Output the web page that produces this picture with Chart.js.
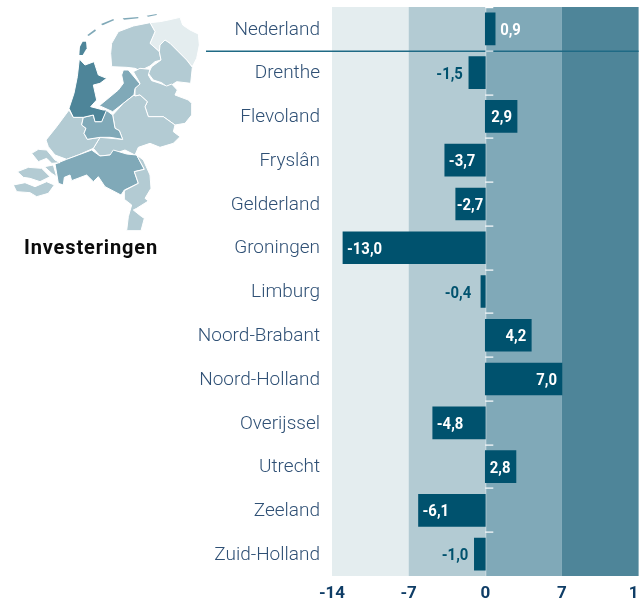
<!DOCTYPE html>
<html><head><meta charset="utf-8">
<style>
html,body{margin:0;padding:0;background:#fff;width:639px;height:601px;overflow:hidden}
#wrap{position:relative;width:639px;height:601px}
canvas{position:absolute;left:0;top:0}
svg{position:absolute;left:0;top:0}
#title{position:absolute;left:24px;top:235px;font:700 20px Roboto,sans-serif;letter-spacing:.85px;color:#0b0b0b;white-space:nowrap}
</style>
<script src="https://cdn.jsdelivr.net/npm/chart.js@4"></script>
</head><body>
<div id="wrap">
<canvas id="c" width="639" height="601"></canvas>
<svg id="map" width="213" height="270" viewBox="0 0 639 810"></svg>
<div id="title">Investeringen</div>
</div>
<script>
const categories = ["Nederland","Drenthe","Flevoland","Fryslân","Gelderland","Groningen","Limburg","Noord-Brabant","Noord-Holland","Overijssel","Utrecht","Zeeland","Zuid-Holland"];
const values = [0.9,-1.5,2.9,-3.7,-2.7,-13.0,-0.4,4.2,7.0,-4.8,2.8,-6.1,-1.0];
const bandEdges = [-14,-7,0,7,14];
const bandColors = ["#e4edef","#b3cbd3","#80a9b8","#4e8599"];
const barColor = "#00526e";
const axisMin = -14, axisMax = 14, axisStep = 7;

/* decorative province map */
const C1="#e4edef",C2="#b3cbd3",C3="#80a9b8",C4="#4e8599";
const provinces = [
 [C1,"450,68 480,65 505,60 540,52 548,75 570,90 595,102 598,135 590,175 577,200 560,180 535,155 510,130 495,120 480,135 478,155 450,130 465,95"],
 [C2,"450,68 465,95 450,130 478,155 483,180 465,185 450,198 420,212 405,205 380,202 335,200 332,160 335,130 355,95 400,78"],
 [C2,"495,120 510,130 535,155 560,180 577,202 572,250 530,245 515,255 500,260 485,248 460,240 445,220 455,200 483,180 478,155 480,135"],
 [C2,"400,215 420,205 450,208 445,225 455,242 480,250 500,258 515,252 532,270 525,285 565,300 575,310 575,345 555,370 525,375 490,350 445,350 435,320 442,305 420,285 405,288 405,265 420,250"],
 [C3,"370,210 385,210 420,252 405,265 402,285 370,310 338,335 298,317 355,270 370,250 365,225"],
 [C2,"405,288 420,285 442,305 435,320 445,350 490,350 525,375 520,395 540,410 520,430 480,442 450,430 415,442 405,465 375,450 330,465 300,468 280,445 300,412 368,418 358,392 345,385 338,345 370,310 402,285"],
 [C2,"207,330 220,352 250,352 245,375 258,385 252,400 262,418 300,412 280,445 235,465 200,478 165,465 145,440 138,420 170,380"],
 [C3,"165,492 200,478 235,465 275,450 300,468 330,465 340,450 380,462 410,465 433,508 403,515 415,550 373,570 363,585 315,560 295,530 280,545 260,525 215,542 210,525 193,532 190,555 175,550 170,520"],
 [C2,"410,465 430,480 450,525 453,565 435,595 445,603 410,625 400,630 425,650 433,655 423,692 380,692 385,650 395,615 373,598 373,572 415,550 403,515 433,508"],
 [C3,"250,352 280,345 285,365 305,365 318,330 338,345 345,385 358,392 368,418 330,412 300,412 262,418 252,400 258,385 245,375"],
 [C4,"238,177 255,195 282,185 295,225 320,235 300,250 280,255 290,300 272,320 310,330 320,330 305,365 285,365 280,345 250,352 220,352 207,325 222,280 232,230"],
 [C2,"95,460 115,448 140,450 165,480 180,488 155,490 140,475 115,485"],
 [C2,"52,515 85,502 125,505 150,530 120,545 90,535 70,532"],
 [C2,"133,500 160,495 170,530 155,520"],
 [C2,"40,555 75,548 105,560 140,545 163,555 145,580 110,590 90,578 50,575"]
];
const islands = ["248,125 258,125 260,145 248,165 238,165 240,140","262,105 285,88 288,92 266,108","303,72 340,57 342,61 308,76","368,55 415,51 415,55 372,59","440,47 470,42 470,45 444,50"];
let svg = "";
for (const [f,p] of provinces) svg += `<polygon points="${p}" fill="${f}" stroke="#fff" stroke-width="3" stroke-linejoin="round"/>`;
islands.forEach((p,i)=>{ svg += `<polygon points="${p}" fill="${i===0?C4:C3}"/>`; });
document.getElementById("map").innerHTML = svg;

const decor = {
  id:"decor",
  beforeDatasetsDraw(chart){
    const {ctx,chartArea:a,scales:{x}} = chart;
    bandColors.forEach((col,i)=>{
      const l=x.getPixelForValue(bandEdges[i]), r=x.getPixelForValue(bandEdges[i+1]);
      ctx.fillStyle=col; ctx.fillRect(l,a.top,r-l,a.bottom-a.top);
    });
    const x0=x.getPixelForValue(0);
    ctx.fillStyle="rgba(255,255,255,.55)"; ctx.fillRect(x0,a.top,1,a.bottom-a.top);
  },
  afterDatasetsDraw(chart){
    const {ctx,chartArea:a,scales:{x,y}} = chart;
    const x0=x.getPixelForValue(0);
    const sep=Math.round((y.getPixelForValue(0)+y.getPixelForValue(1))/2);
    ctx.fillStyle="#1f6a85"; ctx.fillRect(206,sep-0.5,a.right-206,1.5);
    ctx.fillStyle="#fff";
    for(let i=0;i<categories.length-1;i++){
      const p=Math.round((y.getPixelForValue(i)+y.getPixelForValue(i+1))/2);
      ctx.fillRect(x0,p-0.5,8,1.2);
    }
    ctx.fillRect(x0,a.top,8,1.2);
    const meta=chart.getDatasetMeta(0);
    ctx.font="700 16px Roboto,sans-serif"; ctx.textBaseline="middle";
    const sx=0.93;
    meta.data.forEach((b,i)=>{
      const v=values[i], txt=v.toFixed(1).replace(".",",");
      const w=ctx.measureText(txt).width*sx;
      const barW=Math.abs(b.x-x0);
      const inside=Math.abs(v)>=2;
      let left;
      if(inside && w+10>barW) left=Math.min(b.x,x0)+(barW-w)/2-0.5;
      else if(v>=0) left= inside? b.x-5-w : b.x+5;
      else left= inside? b.x+4 : Math.min(b.x-6,x0-14)-w;
      ctx.fillStyle= (inside||v>=0)?"#fff":"#00526e";
      ctx.save(); ctx.translate(left,b.y+2); ctx.scale(sx,1);
      ctx.textAlign="left"; ctx.fillText(txt,0,0); ctx.restore();
    });
  }
};
function fitX(s){ s.height=25; s.paddingLeft=0; s.paddingRight=0; }
function fitY(s){ s.width=332; s.paddingTop=0; s.paddingBottom=0; }
new Chart(document.getElementById("c"),{
  type:"bar",
  data:{labels:categories,datasets:[{data:values,backgroundColor:barColor,barThickness:32,borderWidth:0}]},
  options:{
    indexAxis:"y",responsive:false,animation:false,devicePixelRatio:1,
    layout:{padding:{top:7,right:0.4,bottom:0,left:0}},
    plugins:{legend:{display:false},title:{display:false},tooltip:{enabled:false}},
    scales:{
      x:{type:"linear",min:axisMin,max:axisMax,afterFit:fitX,
         grid:{display:false},border:{display:false},
         ticks:{stepSize:axisStep,autoSkip:false,maxRotation:0,padding:0,
                color:"#0f3d66",font:{family:"Roboto",weight:"700",size:17},
                callback:v=>String(v)}},
      y:{type:"category",afterFit:fitY,
         grid:{display:false},border:{display:false},
         ticks:{padding:4,autoSkip:false,crossAlign:"near",color:"#2f5075",labelOffset:1,
                font:{family:"Roboto",weight:"300",size:19}}}
    }
  },
  plugins:[decor]
});
</script>
</body></html>
